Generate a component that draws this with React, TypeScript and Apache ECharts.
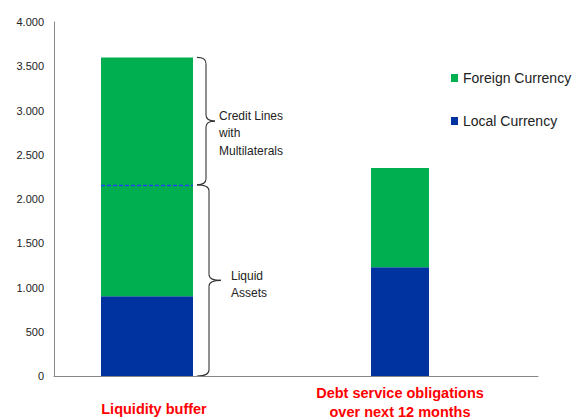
import React, { useEffect, useRef } from "react";
import * as echarts from "echarts";

const categories = ["Liquidity buffer", "Debt service obligations\nover next 12 months"];
const localCurrency = [900, 1230];
const foreignCurrency = [2700, 1120];
const liquidAssetsLevel = 2160;
const yMin = 0;
const yMax = 4000;
const yStep = 500;
const legendNames = ["Foreign Currency", "Local Currency"];
const braceLabels = ["Credit Lines\nwith\nMultilaterals", "Liquid\nAssets"];

const GREEN = "#00AF50";
const BLUE = "#0033A0";
const FONT = "Liberation Sans, Arial, sans-serif";

function fmt(v: number) {
  return String(v).replace(/\B(?=(\d{3})+(?!\d))/g, ".");
}

function brace(x0: number, xv: number, xt: number, y1: number, y2: number, r: number) {
  const ym = (y1 + y2) / 2;
  const ls = { stroke: "#333", lineWidth: 1.1, fill: "none" };
  return [
    { type: "bezierCurve", shape: { x1: x0, y1: y1, cpx1: xv, cpy1: y1, x2: xv, y2: y1 + r }, style: ls },
    { type: "line", shape: { x1: xv, y1: y1 + r, x2: xv, y2: ym - r }, style: ls },
    { type: "bezierCurve", shape: { x1: xv, y1: ym - r, cpx1: xv, cpy1: ym, x2: xt, y2: ym }, style: ls },
    { type: "bezierCurve", shape: { x1: xt, y1: ym, cpx1: xv, cpy1: ym, x2: xv, y2: ym + r }, style: ls },
    { type: "line", shape: { x1: xv, y1: ym + r, x2: xv, y2: y2 - r }, style: ls },
    { type: "bezierCurve", shape: { x1: xv, y1: y2 - r, cpx1: xv, cpy1: y2, x2: x0, y2: y2 }, style: ls },
  ];
}

export default function App() {
  const ref = useRef<HTMLDivElement>(null);
  useEffect(() => {
    document.body.style.margin = "0";
    const chart = echarts.init(ref.current!, null, { renderer: "svg" });
    const hiddenY = (i: number) => ({
      type: "value",
      gridIndex: i,
      min: yMin,
      max: yMax,
      interval: yStep,
      show: false,
    });
    const barX = (i: number, cat: string, margin: number, lineHeight: number, padding: number[]) => ({
      type: "category",
      gridIndex: i,
      data: [cat],
      axisLine: { show: false },
      axisTick: { show: false },
      axisLabel: {
        interval: 0,
        margin,
        padding,
        color: "#FF0000",
        fontWeight: "bold",
        fontSize: 14.5,
        lineHeight,
        fontFamily: FONT,
      },
    });
    const option: any = {
      animation: false,
      backgroundColor: "#fff",
      grid: [
        { left: 54, right: 41, top: 22, bottom: 44, outerBoundsMode: "none", containLabel: false },
        { left: 101, width: 92, top: 22, bottom: 44, outerBoundsMode: "none", containLabel: false },
        { left: 371, width: 58, top: 22, bottom: 44, outerBoundsMode: "none", containLabel: false },
      ],
      legend: {
        data: legendNames.map((n) => ({ name: n, icon: "rect" })),
        orient: "vertical",
        left: 451,
        top: 71,
        padding: 0,
        itemWidth: 7,
        itemHeight: 8,
        itemGap: 29,
        textStyle: { fontSize: 14, color: "#222", fontFamily: FONT },
      },
      xAxis: [
        {
          type: "category",
          gridIndex: 0,
          data: [""],
          axisLine: { lineStyle: { color: "#868686", width: 1 } },
          axisTick: { show: false },
          axisLabel: { show: false },
        },
        barX(1, categories[0], 23, 20, [0, 0, 0, 14]),
        barX(2, categories[1], 7, 19, [0, 0, 0, 0]),
      ],
      yAxis: [
        {
          type: "value",
          gridIndex: 0,
          min: yMin,
          max: yMax,
          interval: yStep,
          axisLine: { show: true, lineStyle: { color: "#868686", width: 1 } },
          axisTick: { show: false },
          splitLine: { show: false },
          axisLabel: {
            formatter: (v: number) => fmt(v),
            fontSize: 11,
            color: "#222",
            margin: 10,
            fontFamily: FONT,
          },
        },
        hiddenY(1),
        hiddenY(2),
      ],
      series: [
        {
          name: "Local Currency",
          type: "bar",
          xAxisIndex: 1,
          yAxisIndex: 1,
          stack: "buffer",
          barWidth: "100%",
          data: [localCurrency[0]],
          itemStyle: { color: BLUE },
        },
        {
          name: "Foreign Currency",
          type: "bar",
          xAxisIndex: 1,
          yAxisIndex: 1,
          stack: "buffer",
          barWidth: "100%",
          data: [foreignCurrency[0]],
          itemStyle: { color: GREEN },
          markLine: {
            silent: true,
            symbol: "none",
            label: { show: false },
            lineStyle: { color: "#1F44F2", type: [4, 2], width: 1.4, opacity: 1 },
            data: [{ yAxis: liquidAssetsLevel }],
          },
        },
        {
          name: "Local Currency",
          type: "bar",
          xAxisIndex: 2,
          yAxisIndex: 2,
          stack: "debt",
          barWidth: "100%",
          data: [localCurrency[1]],
          itemStyle: { color: BLUE },
        },
        {
          name: "Foreign Currency",
          type: "bar",
          xAxisIndex: 2,
          yAxisIndex: 2,
          stack: "debt",
          barWidth: "100%",
          data: [foreignCurrency[1]],
          itemStyle: { color: GREEN },
        },
      ],
    };
    chart.setOption(option);

    const total = localCurrency[0] + foreignCurrency[0];
    const yTop = chart.convertToPixel({ yAxisIndex: 1 } as any, total) as number;
    const yMid = chart.convertToPixel({ yAxisIndex: 1 } as any, liquidAssetsLevel) as number;
    const yBot = chart.convertToPixel({ yAxisIndex: 1 } as any, 0) as number;
    const upper = brace(197, 206, 215, yTop, yMid, 6);
    const lower = brace(197, 209, 221, yMid, yBot, 6);
    const tipU = (yTop + yMid) / 2;
    const tipL = (yMid + yBot) / 2;
    chart.setOption({
      graphic: [
        ...upper,
        ...lower,
        {
          type: "text",
          style: {
            text: braceLabels[0],
            x: 219,
            y: tipU + 12,
            verticalAlign: "middle",
            fontSize: 12,
            lineHeight: 17.5,
            fill: "#222",
            fontFamily: FONT,
          },
        },
        {
          type: "text",
          style: {
            text: braceLabels[1],
            x: 231,
            y: tipL + 4,
            verticalAlign: "middle",
            fontSize: 12,
            lineHeight: 17.5,
            fill: "#222",
            fontFamily: FONT,
          },
        },
      ],
    });
    return () => chart.dispose();
  }, []);
  return <div ref={ref} style={{ width: 579, height: 420 }} />;
}
